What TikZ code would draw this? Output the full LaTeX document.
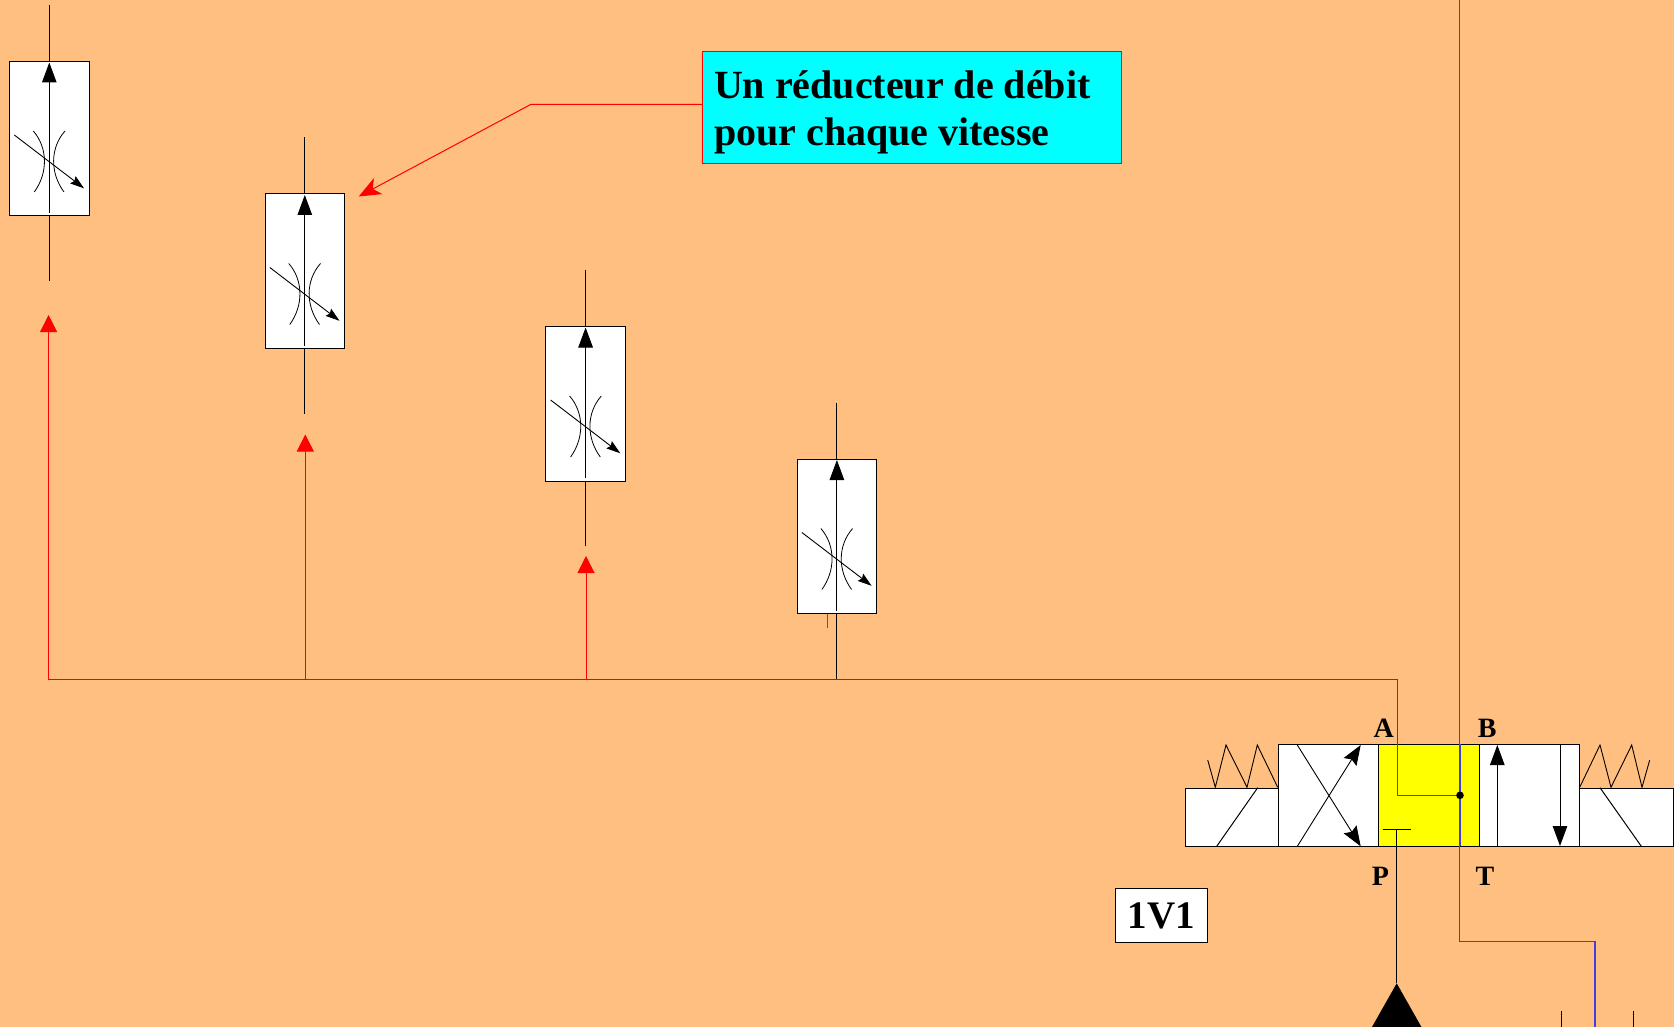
\documentclass[tikz,border=0pt]{standalone}
\usepackage{fontspec}
\setmainfont{Liberation Serif}
\usetikzlibrary{arrows.meta}
\definecolor{bgorange}{RGB}{255,191,128}
\definecolor{hyblue}{RGB}{70,60,225}
\definecolor{notecyan}{RGB}{0,255,255}
\definecolor{valveyellow}{RGB}{255,255,0}
\definecolor{purered}{RGB}{255,0,0}
\tikzset{
  ln/.style={line width=1pt,draw=black},
  redln/.style={line width=1pt,draw=purered},
  blueln/.style={line width=1.1pt,draw=hyblue},
  whitebox/.style={draw=black,fill=white,line width=1pt,inner sep=0pt,minimum width=79.5pt,minimum height=154.5pt,anchor=north},
  cellbox/.style={draw=black,fill=white,line width=1pt,inner sep=0pt,minimum height=102pt,anchor=north west},
  solbox/.style={draw=black,fill=white,line width=1pt,inner sep=0pt,minimum width=93.2pt,minimum height=58.6pt,anchor=north west},
  thin arc/.style={line width=.8pt,draw=black},
  fat tip/.style={-{Triangle[length=20pt,width=14.5pt]}},
  red tip/.style={-{Triangle[length=17pt,width=17pt,color=purered]}},
  slim tip/.style={-{Stealth[length=20pt,width=15pt,inset=3pt]}},
  small tip/.style={-{Stealth[length=14pt,width=9pt,inset=2pt]}},
  portlabel/.style={font=\fontsize{28}{30}\selectfont\bfseries,inner sep=0pt},
}
\newcommand{\reducer}[3]{%
  \begin{scope}[shift={(#2,#3)}]
    \node[whitebox] (#1box) at (49.3,61) {};
    \coordinate (#1top) at (49.3,5);
    \coordinate (#1bot) at (49.3,213);
    \coordinate (#1tip) at (49.3,62.5);
    \coordinate (#1low) at (49.3,281);
    \draw[ln] (#1top) -- (#1box.north -| #1top);
    \draw[ln,fat tip] (#1bot) -- (#1tip);
    \draw[thin arc] (33.3,131) .. controls (48,148) and (48,173) .. (34.3,192);
    \draw[thin arc] (65,131) .. controls (50,148) and (50,173) .. (64,192);
    \coordinate (#1a) at (14.3,135);
    \coordinate (#1b) at (84,188.3);
    \draw[line width=.9pt,draw=black,small tip] (#1a) -- (#1b);
  \end{scope}}
\begin{document}
\begin{tikzpicture}[x=1pt,y=-1pt]
\useasboundingbox (0,0) rectangle (1674,1027);
\clip (0,0) rectangle (1674,1027);
\fill[bgorange] (0,0) rectangle (1674,1027);

% flow reducers
\reducer{ra}{0}{0}
\reducer{rb}{255.5}{132.5}
\reducer{rc}{536.3}{265}
\reducer{rd}{787.6}{397.5}

% red network
\coordinate (busL) at (48.6,679.5);
\coordinate (busB) at (305.3,679.5);
\coordinate (busC) at (586,679.5);
\coordinate (busD) at (836.9,679.5);
\coordinate (busR) at (1397.3,679.5);
\coordinate (tipA) at (48.6,315);
\coordinate (tipB) at (305.3,434.5);
\coordinate (tipC) at (586,556);
\coordinate (portA) at (1397.3,744.3);

\draw[ln] (rabox.south -| ralow) -- (ralow);
\draw[ln] (rbbox.south -| rblow) -- (rblow);
\draw[ln] (rcbox.south -| rclow) -- (rclow);
\draw[ln] (rdbox.south -| busD) -- (busD);

\draw[redln] (portA) -- (busR) -- (busL);
\draw[redln,red tip] (busL) -- (tipA);
\draw[redln,red tip] (busB) -- (tipB);
\draw[redln,red tip] (busC) -- (tipC);
\coordinate (tickEnd) at (827,627.7);
\draw[line width=1pt,draw=purered!80!orange] (827,613.8) -- (tickEnd);

% callout
\node[draw=purered,fill=notecyan,line width=1pt,inner sep=0pt,minimum width=418.8pt,minimum height=112pt,anchor=north west] (note) at (702.2,51.3) {};
\node[anchor=base west,inner sep=0pt,align=left,font=\fontsize{40}{46.7}\selectfont\bfseries] (notetxt) at (713.8,145.3) {Un réducteur de débit\\pour chaque vitesse};
\coordinate (elbow) at (531,104.3);
\coordinate (pointer) at (358.7,196.5);
\draw[redln,-{Stealth[length=22pt,width=18pt,inset=6pt]}] (note.west |- elbow) -- (elbow) -- (pointer);

% valve
\node[solbox] (solL) at (1185,787.7) {};
\node[solbox] (solR) at (1579.3,787.7) {};
\node[cellbox,minimum width=99.7pt] (cellL) at (1278.3,744.3) {};
\node[cellbox,minimum width=101.3pt,fill=valveyellow] (cellM) at (1378,744.3) {};
\node[cellbox,minimum width=100pt] (cellR) at (1479.3,744.3) {};

\draw[ln] (1216.7,846.3) -- (1257.7,787.7);
\draw[ln] (1600,787.7) -- (1641.3,846.3);
\draw[line width=.9pt] (1207.7,760) -- (1215.3,787.3) -- (1226,745) -- (1247,787.3) -- (1257.3,745) -- (1277.7,787.3);
\draw[line width=.9pt] (1579.7,787.3) -- (1600,745) -- (1611,787.3) -- (1631.7,745) -- (1642,787.3) -- (1649.7,760);

\draw[line width=.9pt,slim tip] (1297.3,846.3) -- (1360.7,745);
\draw[line width=.9pt,slim tip] (1297.3,745) -- (1360.7,846.3);
\draw[ln,fat tip] (1497.3,846.3) -- (1497.3,745);
\draw[ln,fat tip] (1560,744.3) -- (1560,846);

% middle position and lines
\coordinate (dot) at (1460,795.3);
\coordinate (portB) at (1459.3,744.3);
\coordinate (portT) at (1459.5,846.3);
\coordinate (stopc) at (1396.7,829.3);
\coordinate (topB) at (1459.3,0);
\coordinate (tankA) at (1459.5,941.3);
\coordinate (tankB) at (1595,941.3);
\coordinate (tankC) at (1595,1027);
\draw[blueln] (topB) -- (portB);
\draw[blueln] (portA) -- (portA |- dot) -- (dot);
\draw[blueln] (portB -| dot) -- (portT -| dot);
\draw[blueln] (portT) -- (tankA) -- (tankB) -- (tankC);
\fill[black] (dot) circle (3.8pt);
\draw[line width=.8pt] (1382.7,829.3) -- (1411.3,829.3);
\coordinate (pump) at (1396.7,983.3);
\draw[ln] (stopc) -- (pump);
\fill[black] (pump) -- (1422,1028) -- (1371.4,1028) -- cycle;
\draw[ln] (1561.7,1011) -- (1561.7,1027);
\draw[ln] (1633,1011) -- (1633,1027);

% labels
\node[portlabel] (lA) at (1383.6,728.5) {A};
\node[portlabel] (lB) at (1487.3,728.5) {B};
\node[portlabel] (lP) at (1380.3,876.5) {P};
\node[portlabel] (lT) at (1485,876.5) {T};
\node[draw=black,fill=white,line width=1pt,inner sep=0pt,minimum width=91.3pt,minimum height=54pt,anchor=north west,font=\fontsize{39}{42}\selectfont\bfseries] (tag) at (1115.4,888.3) {1V1};
\end{tikzpicture}
\end{document}
